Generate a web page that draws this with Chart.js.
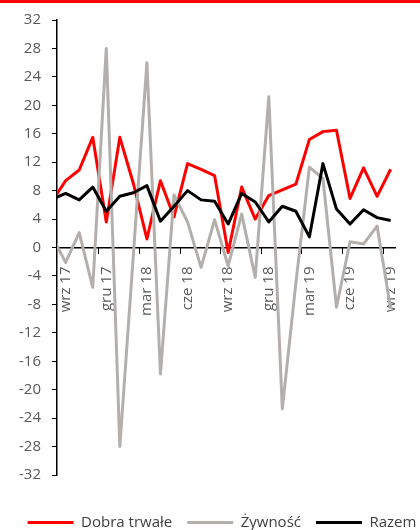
<!DOCTYPE html>
<html>
<head>
<meta charset="utf-8">
<script src="https://cdn.jsdelivr.net/npm/chart.js@4.4.1/dist/chart.umd.min.js"></script>
<style>
  html, body { margin: 0; padding: 0; background: #fff; }
</style>
</head>
<body>
<canvas id="canvas1" width="420" height="530"></canvas>
<script>
// miesiace: sie 17 .. wrz 19 (pierwszy punkt wychodzi poza os i jest przyciety)
var months = ['sie 17','wrz 17','paź 17','lis 17','gru 17','sty 18','lut 18','mar 18','kwi 18','maj 18','cze 18','lip 18',
              'sie 18','wrz 18','paź 18','lis 18','gru 18','sty 19','lut 19','mar 19','kwi 19','maj 19','cze 19','lip 19','sie 19','wrz 19'];

var dobraTrwale = [6.5, 9.4, 10.9, 15.5, 3.6, 15.5, 9.0, 1.2, 9.4, 4.3, 11.8, 11.0,
                   10.1, -0.7, 8.5, 4.0, 7.3, 8.1, 8.9, 15.2, 16.3, 16.5, 6.9, 11.2, 7.2, 11.0];
var zywnosc     = [1.5, -2.1, 2.1, -5.6, 28.0, -28.0, -1.0, 26.0, -17.8, 7.4, 3.6, -2.8,
                   3.9, -2.6, 4.7, -4.2, 21.2, -22.7, -5.0, 11.3, 9.7, -8.4, 0.8, 0.5, 3.0, -8.6];
var razem       = [6.8, 7.6, 6.7, 8.5, 5.1, 7.2, 7.7, 8.7, 3.7, 5.8, 8.0, 6.7,
                   6.5, 3.3, 7.6, 6.4, 3.6, 5.8, 5.1, 1.5, 11.8, 5.4, 3.3, 5.3, 4.2, 3.8];

var seriesNames = ['Dobra trwałe', 'Żywność', 'Razem'];

var FONT = '"Open Sans", "DejaVu Sans", sans-serif';
var TXT = '#595959';
var xMin = 0.36, xMax = 25.36;

function pts(arr) {
	return arr.map(function(v, i) { return { x: i, y: v }; });
}

// co trzeci miesiac ma etykiete (wrz, gru, mar, cze)
var labelIdx = [];
for (var i = 0; i < months.length; i++) {
	if (i % 3 === 1) labelIdx.push(i);
}

var topBar = {
	id: 'topBar',
	beforeDraw: function(chart) {
		var ctx = chart.ctx;
		ctx.save();
		ctx.fillStyle = '#ffffff';
		ctx.fillRect(0, 0, chart.width, chart.height);
		ctx.fillStyle = '#ff0000';
		ctx.fillRect(0, 0, chart.width, 3);
		ctx.restore();
	}
};

// legenda troche w prawo, jak w oryginale
var legendShift = {
	id: 'legendShift',
	afterLayout: function(chart) {
		if (chart.legend) {
			chart.legend.left += 12;
			chart.legend.right += 12;
		}
	}
};

// puste osie tylko do zostawienia miejsca
function spacer(axis, pos, size) {
	return {
		type: 'linear',
		axis: axis,
		position: pos,
		ticks: { display: false },
		grid: { display: false },
		border: { display: false },
		afterFit: function(s) {
			if (axis === 'x') s.height = size; else s.width = size;
		}
	};
}

function line(label, values, color, order) {
	return {
		label: label,
		data: pts(values),
		xAxisID: 'x',
		yAxisID: 'y',
		borderColor: color,
		backgroundColor: color,
		borderWidth: 3,
		borderJoinStyle: 'round',
		pointRadius: 0,
		tension: 0,
		clip: 0,
		order: order
	};
}

var ctx = document.getElementById('canvas1').getContext('2d');
window.myLine = new Chart(ctx, {
	type: 'line',
	data: {
		datasets: [
			line(seriesNames[0], dobraTrwale, '#ff0000', 3),
			line(seriesNames[1], zywnosc, '#b3afad', 2),
			line(seriesNames[2], razem, '#000000', 1)
		]
	},
	options: {
		responsive: false,
		animation: false,
		layout: { padding: { left: 0, right: 0, top: 20, bottom: -10 } },
		plugins: {
			tooltip: { enabled: false },
			legend: {
				position: 'bottom',
				labels: {
					boxWidth: 46,
					boxHeight: 3,
					padding: 15,
					color: '#404040',
					font: { family: FONT, size: 15 },
					sort: function(a, b) { return a.datasetIndex - b.datasetIndex; },
					generateLabels: function(chart) {
						var items = Chart.defaults.plugins.legend.labels.generateLabels(chart);
						items.forEach(function(it) { it.lineWidth = 0; });
						return items;
					}
				}
			}
		},
		scales: {
			x: {
				type: 'linear',
				position: { y: 0 },
				min: xMin,
				max: xMax,
				afterBuildTicks: function(s) {
					s.ticks = labelIdx.map(function(i) { return { value: i }; });
				},
				ticks: {
					autoSkip: false,
					minRotation: 90,
					maxRotation: 90,
					padding: 11,
					color: TXT,
					font: { family: FONT, size: 15 },
					callback: function(v) { return months[v]; }
				},
				grid: { display: false },
				border: { display: true, color: '#000000', width: 1.5 }
			},
			y: {
				min: -32,
				max: 32,
				ticks: {
					stepSize: 4,
					padding: 11,
					color: TXT,
					font: { family: FONT, size: 15 }
				},
				grid: { drawOnChartArea: false, drawTicks: true, tickLength: 5, color: '#000000' },
				border: { display: true, color: '#000000', width: 1.5 },
				afterFit: function(s) { s.width = 57; }
			},
			xTicks: {
				type: 'linear',
				axis: 'x',
				position: { y: 0 },
				min: xMin,
				max: xMax,
				afterBuildTicks: function(s) {
					s.ticks = labelIdx.filter(function(i) { return i > 1; })
						.map(function(i) { return { value: i - 0.55 }; });
				},
				ticks: { display: false },
				grid: { drawOnChartArea: false, drawTicks: true, tickLength: 6, color: '#000000', lineWidth: 1 },
				border: { display: false }
			},
			gapBottom: spacer('x', 'bottom', 25),
			gapRight: spacer('y', 'right', 13)
		}
	},
	plugins: [topBar, legendShift]
});
</script>
</body>
</html>
